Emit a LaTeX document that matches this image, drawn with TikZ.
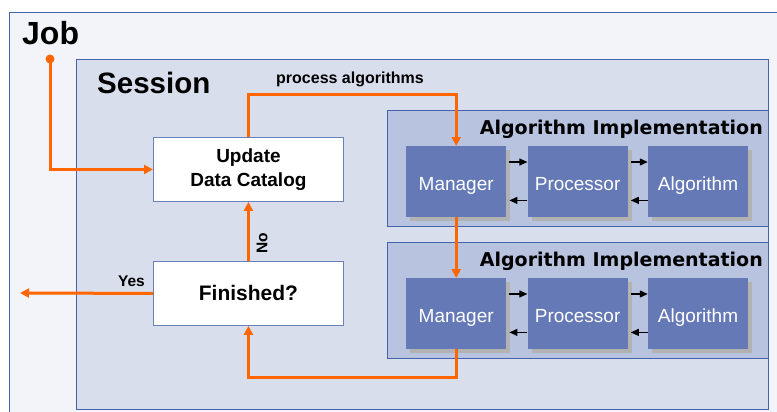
\documentclass[tikz,border=0pt]{standalone}
\usepackage{fontspec}
\setmainfont{Liberation Sans}
\newfontfamily\implfont{DejaVu Sans}
\usepackage{tikz}
\usetikzlibrary{arrows.meta,positioning,shadows}
\definecolor{jobbg}{HTML}{F3F4F9}
\definecolor{sessbg}{HTML}{D9DEED}
\definecolor{implbg}{HTML}{B8C3DF}
\definecolor{unitbg}{HTML}{6479B6}
\definecolor{frame}{HTML}{4463AC}
\definecolor{flowor}{HTML}{FF6600}

\begin{document}
\begin{tikzpicture}[x=1pt,y=-1pt,node distance=21pt,
  every node/.style={align=center,inner sep=0pt},
  panel/.style={draw=frame,line width=0.9pt,anchor=north west},
  unit/.style={fill=unitbg,text=white,minimum width=100pt,minimum height=71pt,font=\fontsize{19}{22}\selectfont,
    text height=17pt,text depth=0pt,general shadow={fill=gray!60,shadow xshift=4pt,shadow yshift=-4pt}},
  stepbox/.style={draw=frame!80,line width=0.9pt,fill=white,minimum width=190pt,minimum height=64pt,anchor=north west},
  flow/.style={-{Triangle[length=9pt,width=9pt]},line width=3pt,flowor},
  link/.style={-{Triangle[length=8pt,width=7pt]},line width=1.1pt,black},
  lbl/.style={font=\bfseries\fontsize{15.5}{18}\selectfont}]
\useasboundingbox (0,0) rectangle (777,412);
% frames
\node[panel,fill=jobbg,minimum width=771pt,minimum height=408pt] (job) at (9,12) {};
\node[panel,fill=sessbg,minimum width=692pt,minimum height=350pt] (session) at (76,59) {};
\node[anchor=base west,font=\bfseries\fontsize{32}{36}\selectfont] (jobtxt) at (22,45) {Job};
\node[anchor=base west,font=\bfseries\fontsize{29.5}{34}\selectfont] (sesstxt) at (97,94) {Session};
% algorithm implementations
\node[panel,fill=implbg,minimum width=381pt,minimum height=116pt] (implA) at (387,110) {};
\node[anchor=base east,font=\implfont\bfseries\fontsize{19}{22}\selectfont] (implAtxt) at (763,135) {Algorithm Implementation};
\node[unit,anchor=north west] (mgrA) at (406,146) {Manager};
\node[unit,right=of mgrA] (procA) {Processor};
\node[unit,right=20pt of procA] (algA) {Algorithm};
\node[panel,fill=implbg,minimum width=381pt,minimum height=116pt] (implB) at (387,242) {};
\node[anchor=base east,font=\implfont\bfseries\fontsize{19}{22}\selectfont] (implBtxt) at (763,266) {Algorithm Implementation};
\node[unit,anchor=north west] (mgrB) at (406,278) {Manager};
\node[unit,right=of mgrB] (procB) {Processor};
\node[unit,right=20pt of procB] (algB) {Algorithm};
% session steps
\node[stepbox,font=\bfseries\fontsize{19}{24}\selectfont] (update) at (153,137) {Update\\Data Catalog};
\node[stepbox,font=\bfseries\fontsize{21}{24}\selectfont] (finished) at (153,261) {Finished?};
\coordinate (jobdot) at (50,59);
\coordinate (exit) at (20,293);
% connectors
\fill[flowor] (jobdot) circle (4.5);
\draw[flow] (jobdot) |- (update.west);
\draw[flow] (update.north) -- ++(0,-42) -| (mgrA.north);
\node[anchor=base,font=\bfseries\fontsize{16}{18}\selectfont] (proclbl) at (350,84) {process algorithms};
\draw[flow] (mgrA.south) -- (mgrB.north);
\draw[flow] (mgrB.south) -- ++(0,28) -| (finished.south);
\draw[flow] (finished.north) -- (update.south);
\node[lbl,rotate=90] (nolbl) at (262,243) {No};
\draw[flow] (finished.west) -- (exit);
\node[lbl,anchor=base east] (yeslbl) at (145,286) {Yes};
\foreach \a/\b in {mgrA/procA,procA/algA,mgrB/procB,procB/algB}{
  \draw[link] ([xshift=3pt,yshift=-16pt]\a.north east) -- ([yshift=-16pt]\b.north west);
  \draw[link] ([yshift=17pt]\b.south west) -- ([xshift=3pt,yshift=17pt]\a.south east);
}
\end{tikzpicture}
\end{document}
